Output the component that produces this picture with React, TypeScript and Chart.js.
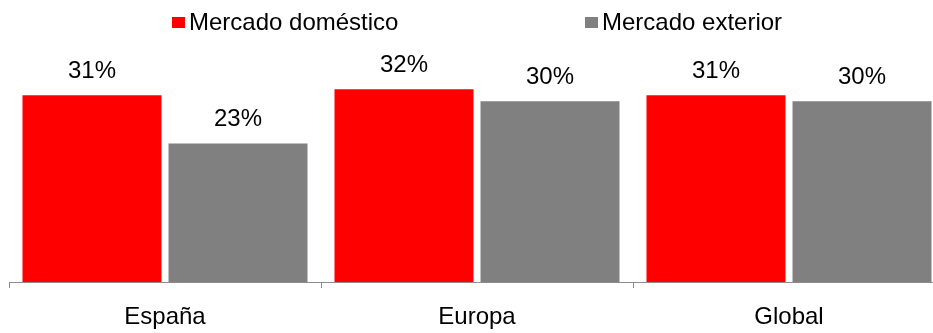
import React, { useEffect, useRef } from "react";
import { Chart, registerables } from "chart.js";

Chart.register(...registerables);

const categories = ["España", "Europa", "Global"];
const seriesNames = ["Mercado doméstico", "Mercado exterior"];
const domestico = [31, 32, 31];
const exterior = [23, 30, 30];
const seriesColors = ["#ff0000", "#808080"];

const FONT = '"Liberation Sans", Arial, sans-serif';

const valueLabels = {
  id: "valueLabels",
  afterDatasetsDraw(chart: any) {
    const ctx = chart.ctx;
    ctx.save();
    ctx.font = `24px ${FONT}`;
    ctx.fillStyle = "#000000";
    ctx.textAlign = "center";
    ctx.textBaseline = "alphabetic";
    chart.data.datasets.forEach((ds: any, i: number) => {
      const meta = chart.getDatasetMeta(i);
      meta.data.forEach((el: any, j: number) => {
        ctx.fillText(`${ds.data[j]}%`, el.x, el.y - 17);
      });
    });
    ctx.restore();
  },
};

const topLegend = {
  id: "topLegend",
  afterDraw(chart: any) {
    const ctx = chart.ctx;
    const ca = chart.chartArea;
    ctx.save();
    ctx.font = `24px ${FONT}`;
    const box = 13;
    const boxH = 11;
    const gap = 4;
    const itemGap = 186;
    const items = chart.data.datasets.map((ds: any) => ({
      label: ds.label,
      color: ds.backgroundColor,
      w: box + gap + ctx.measureText(ds.label).width,
    }));
    const total =
      items.reduce((s: number, it: any) => s + it.w, 0) + itemGap * (items.length - 1);
    let x = (ca.left + ca.right) / 2 - total / 2;
    items.forEach((it: any) => {
      ctx.fillStyle = it.color;
      ctx.fillRect(Math.round(x), 17, box, boxH);
      ctx.fillStyle = "#000000";
      ctx.textAlign = "left";
      ctx.textBaseline = "alphabetic";
      ctx.fillText(it.label, Math.round(x) + box + gap, 30);
      x += it.w + itemGap;
    });
    ctx.restore();
  },
};

export default function App() {
  const canvasRef = useRef<HTMLCanvasElement | null>(null);

  useEffect(() => {
    if (!canvasRef.current) return;
    const chart = new Chart(canvasRef.current, {
      type: "bar",
      data: {
        labels: categories,
        datasets: [
          {
            label: seriesNames[0],
            data: domestico,
            backgroundColor: seriesColors[0],
            categoryPercentage: 0.936,
            barPercentage: 0.952,
          },
          {
            label: seriesNames[1],
            data: exterior,
            backgroundColor: seriesColors[1],
            categoryPercentage: 0.936,
            barPercentage: 0.952,
          },
        ],
      },
      options: {
        responsive: false,
        animation: false,
        layout: { padding: { left: 9, right: 1, top: 41, bottom: 0 } },
        plugins: {
          legend: { display: false },
          tooltip: { enabled: false },
        },
        scales: {
          x: {
            offset: true,
            grid: {
              display: true,
              drawOnChartArea: false,
              drawTicks: true,
              tickLength: 6,
              color: "#8c8c8c",
              offset: true,
            },
            border: { display: true, color: "#8c8c8c" },
            ticks: {
              color: "#000000",
              font: { family: FONT, size: 24 },
              padding: 15,
            },
            afterFit: (scale: any) => {
              scale.height = 51;
            },
          },
          y: {
            display: false,
            min: 0,
            max: 40,
          },
        },
      },
      plugins: [valueLabels, topLegend],
    } as any);
    return () => chart.destroy();
  }, []);

  return (
    <div
      style={{
        position: "fixed",
        left: 0,
        top: 0,
        width: 933,
        height: 333,
        overflow: "hidden",
        background: "#ffffff",
      }}
    >
      <canvas
        ref={canvasRef}
        width={946}
        height={333}
        style={{ display: "block", width: 946, height: 333 }}
      />
    </div>
  );
}
